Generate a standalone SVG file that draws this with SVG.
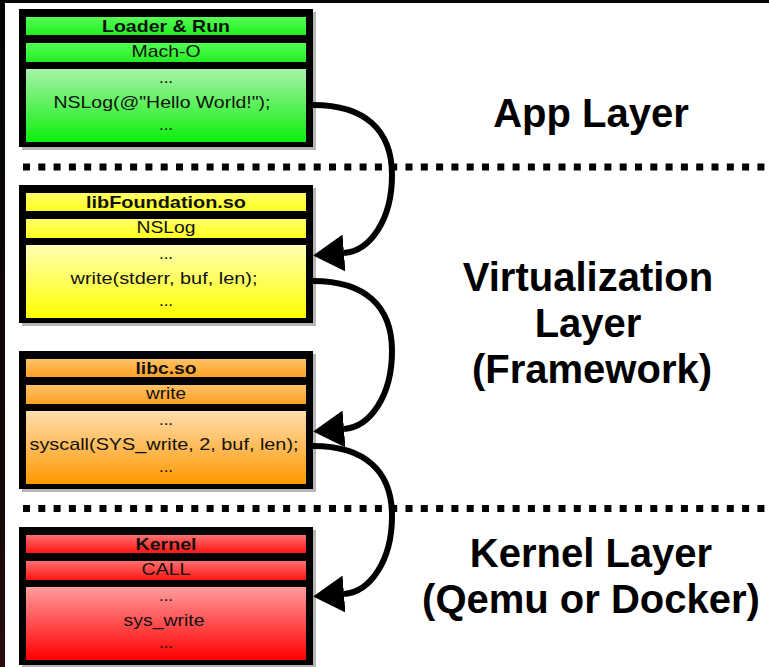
<svg xmlns="http://www.w3.org/2000/svg" width="769" height="667" viewBox="0 0 769 667">
  <defs>
    <style>
      .frame { fill: #000; }
      .shadow { fill: #7a7a7a; opacity: 0.55; }
      .hdr { font-family: "Liberation Sans", Arial, Helvetica, sans-serif; font-size: 17px; font-weight: bold; fill: #111; text-anchor: middle; }
      .txt { font-family: "Liberation Sans", Arial, Helvetica, sans-serif; font-size: 17px; fill: #111; text-anchor: middle; }
      .layer { font-family: "Liberation Sans", Arial, Helvetica, sans-serif; font-size: 40px; font-weight: bold; fill: #000; text-anchor: middle; }
      .sep { stroke: #000; stroke-width: 7; stroke-dasharray: 7 8.3; fill: none; }
      .call { stroke: #000; stroke-width: 6; fill: none; marker-end: url(#head); }
    </style>
    <linearGradient id="edge" x1="0" y1="0" x2="0" y2="1">
      <stop offset="0" stop-color="#050505"/>
      <stop offset="0.7" stop-color="#120808"/>
      <stop offset="1" stop-color="#2a0d0d"/>
    </linearGradient>
    <!-- row fills: light at the top, full colour at the bottom -->
    <linearGradient id="gH" x1="0" y1="0" x2="0" y2="1"><stop offset="0" stop-color="#55ff55"/><stop offset="1" stop-color="#22ee22"/></linearGradient>
    <linearGradient id="gB" x1="0" y1="0" x2="0" y2="1"><stop offset="0" stop-color="#a8f2a8"/><stop offset="1" stop-color="#0cf00c"/></linearGradient>
    <linearGradient id="yH" x1="0" y1="0" x2="0" y2="1"><stop offset="0" stop-color="#ffff66"/><stop offset="1" stop-color="#ffff22"/></linearGradient>
    <linearGradient id="yB" x1="0" y1="0" x2="0" y2="1"><stop offset="0" stop-color="#ffffb4"/><stop offset="1" stop-color="#ffff00"/></linearGradient>
    <linearGradient id="oH" x1="0" y1="0" x2="0" y2="1"><stop offset="0" stop-color="#ffc266"/><stop offset="1" stop-color="#ffa024"/></linearGradient>
    <linearGradient id="oB" x1="0" y1="0" x2="0" y2="1"><stop offset="0" stop-color="#ffdeae"/><stop offset="1" stop-color="#ff9800"/></linearGradient>
    <linearGradient id="rH" x1="0" y1="0" x2="0" y2="1"><stop offset="0" stop-color="#ff7070"/><stop offset="1" stop-color="#ff1414"/></linearGradient>
    <linearGradient id="rB" x1="0" y1="0" x2="0" y2="1"><stop offset="0" stop-color="#ff9c9c"/><stop offset="1" stop-color="#ff0000"/></linearGradient>
    <marker id="head" markerUnits="userSpaceOnUse" viewBox="0 0 31 37" markerWidth="31" markerHeight="37" refX="0" refY="18.5" orient="auto">
      <path d="M0,0 L31,18.5 L0,37 Z" fill="#000"/>
    </marker>
  </defs>

  <!-- page -->
  <rect x="0" y="0" width="769" height="667" fill="#fff"/>
  <rect x="0" y="0" width="769" height="3" fill="#050505"/>
  <rect x="0" y="0" width="5" height="667" fill="url(#edge)"/>

  <!-- layer separators -->
  <g id="separators">
    <line class="sep" x1="23" y1="167" x2="769" y2="167"/>
    <line class="sep" x1="23" y1="508.5" x2="769" y2="508.5"/>
  </g>

  <!-- layer captions -->
  <g id="captions">
    <text class="layer" x="591" y="127">App Layer</text>
    <text class="layer" x="588" y="291">Virtualization</text>
    <text class="layer" x="588" y="337">Layer</text>
    <text class="layer" x="592" y="383">(Framework)</text>
    <text class="layer" x="591" y="567">Kernel Layer</text>
    <text class="layer" x="591" y="613">(Qemu or Docker)</text>
  </g>

  <!-- app binary -->
  <g id="app" transform="translate(0,9)">
    <rect class="shadow" x="22" y="3" width="294" height="138"/>
    <rect class="frame" x="19" y="0" width="294" height="138"/>
    <rect x="26" y="8" width="280" height="18" fill="url(#gH)"/>
    <rect x="26" y="34" width="280" height="19" fill="url(#gH)"/>
    <rect x="26" y="60" width="280" height="73" fill="url(#gB)"/>
    <text class="hdr" x="166" y="23" textLength="128" lengthAdjust="spacingAndGlyphs">Loader &amp; Run</text>
    <text class="txt" x="166" y="48" textLength="69" lengthAdjust="spacingAndGlyphs">Mach-O</text>
    <text class="txt" x="166" y="74">...</text>
    <text class="txt" x="162" y="99" textLength="217" lengthAdjust="spacingAndGlyphs">NSLog(@"Hello World!");</text>
    <text class="txt" x="166" y="121">...</text>
  </g>

  <!-- libFoundation.so -->
  <g id="libfoundation" transform="translate(0,185)">
    <rect class="shadow" x="22" y="3" width="294" height="138"/>
    <rect class="frame" x="19" y="0" width="294" height="138"/>
    <rect x="26" y="8" width="280" height="18" fill="url(#yH)"/>
    <rect x="26" y="34" width="280" height="19" fill="url(#yH)"/>
    <rect x="26" y="60" width="280" height="73" fill="url(#yB)"/>
    <text class="hdr" x="166" y="23" textLength="160" lengthAdjust="spacingAndGlyphs">libFoundation.so</text>
    <text class="txt" x="166" y="48" textLength="59" lengthAdjust="spacingAndGlyphs">NSLog</text>
    <text class="txt" x="166" y="74">...</text>
    <text class="txt" x="164" y="99" textLength="187" lengthAdjust="spacingAndGlyphs">write(stderr, buf, len);</text>
    <text class="txt" x="166" y="121">...</text>
  </g>

  <!-- libc.so -->
  <g id="libc" transform="translate(0,351)">
    <rect class="shadow" x="22" y="3" width="294" height="138"/>
    <rect class="frame" x="19" y="0" width="294" height="138"/>
    <rect x="26" y="8" width="280" height="18" fill="url(#oH)"/>
    <rect x="26" y="34" width="280" height="19" fill="url(#oH)"/>
    <rect x="26" y="60" width="280" height="73" fill="url(#oB)"/>
    <text class="hdr" x="166" y="23" textLength="61" lengthAdjust="spacingAndGlyphs">libc.so</text>
    <text class="txt" x="166" y="48" textLength="40" lengthAdjust="spacingAndGlyphs">write</text>
    <text class="txt" x="166" y="74">...</text>
    <text class="txt" x="164" y="99" textLength="269" lengthAdjust="spacingAndGlyphs">syscall(SYS_write, 2, buf, len);</text>
    <text class="txt" x="166" y="121">...</text>
  </g>

  <!-- kernel -->
  <g id="kernel" transform="translate(0,527)">
    <rect class="shadow" x="22" y="3" width="294" height="138"/>
    <rect class="frame" x="19" y="0" width="294" height="138"/>
    <rect x="26" y="8" width="280" height="18" fill="url(#rH)"/>
    <rect x="26" y="34" width="280" height="19" fill="url(#rH)"/>
    <rect x="26" y="60" width="280" height="73" fill="url(#rB)"/>
    <text class="hdr" x="166" y="23" textLength="61" lengthAdjust="spacingAndGlyphs">Kernel</text>
    <text class="txt" x="166" y="48" textLength="49" lengthAdjust="spacingAndGlyphs">CALL</text>
    <text class="txt" x="166" y="74">...</text>
    <text class="txt" x="164" y="99" textLength="81" lengthAdjust="spacingAndGlyphs">sys_write</text>
    <text class="txt" x="166" y="121">...</text>
  </g>

  <!-- calls between layers -->
  <g id="connectors">
    <path class="call" d="M313,105 C365,105 392,130 392,175 C392,220 370,251 344,253"/>
    <path class="call" d="M313,281 C365,281 392,306 392,351 C392,396 370,427 344,429"/>
    <path class="call" d="M313,446 C365,446 392,471 392,516 C392,561 370,592 344,594"/>
  </g>
</svg>
